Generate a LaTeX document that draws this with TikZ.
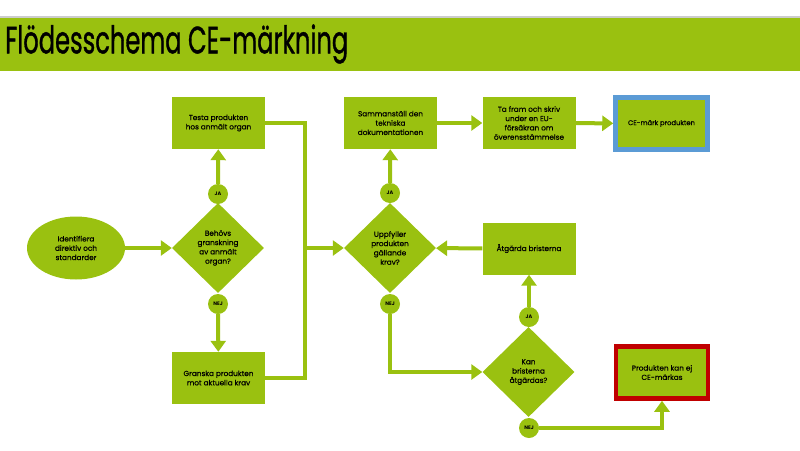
\documentclass[tikz,border=0pt]{standalone}
\usepackage{fontspec}
\setmainfont{Poppins}[UprightFeatures={FakeBold=0.5}]
\newfontfamily\titlefont{Poppins}[UprightFeatures={FakeBold=1.2}]
\usetikzlibrary{shapes.geometric,arrows.meta,positioning,calc}
\definecolor{cegreen}{RGB}{154,193,16}
\definecolor{okblue}{RGB}{91,155,213}
\definecolor{stopred}{RGB}{192,0,0}

\tikzset{
    box/.style={rectangle, fill=cegreen, minimum width=93pt, minimum height=52pt,
        inner sep=1pt, align=center, font=\fontsize{7.3}{9.3}\selectfont},
    query/.style={diamond, fill=cegreen, minimum width=92pt, minimum height=90pt,
        inner sep=0pt, align=center, font=\fontsize{7.3}{9.3}\selectfont},
    startnode/.style={ellipse, fill=cegreen, minimum width=98pt, minimum height=63pt,
        inner sep=0pt, align=center, font=\fontsize{7.3}{9.3}\selectfont},
    endbox/.style={box, line width=4.5pt, minimum width=92pt, minimum height=52pt},
    tag/.style={circle, fill=cegreen, minimum size=20pt, inner sep=0pt,
        font=\fontsize{5}{6}\selectfont\bfseries},
    link/.style={draw=cegreen, line width=4pt},
    flow/.style={link, -{Triangle[width=15pt,length=11pt]}}
}

\begin{document}
\begin{tikzpicture}[x=1pt, y=-1pt]
    \useasboundingbox (0,0) rectangle (800,450);

    % Title bar
    \fill[gray!40] (0,16) rectangle (800,17.5);
    \fill[cegreen] (0,17.5) rectangle (800,71);
    \node[anchor=west, inner sep=0pt, font=\titlefont\fontsize{38}{40}\selectfont] (title) at (5,44)
        {\resizebox{343pt}{\height}{Flödesschema CE-märkning}};

    % Left part
    \node[startnode] (ident) at (76,248) {Identifiera\\direktiv och\\standarder};
    \node[query] (q1) at (218,248) {Behövs\\granskning\\av anmält\\organ?};
    \node[box] (testa) at (218.5,123) {Testa produkten\\hos anmält organ};
    \node[box] (granska) at (218.5,378) {Granska produkten\\mot aktuella krav};

    % Middle part
    \node[query] (q2) at (390,248) {Uppfyller\\produkten\\gällande\\krav?};
    \node[box] (samman) at (390.5,123) {Sammanställ den\\tekniska\\dokumentationen};
    \node[box] (tafram) at (529,123) {Ta fram och skriv\\under en EU-\\försäkran om\\överensstämmelse};
    \node[box] (atgard) at (529,248.5) {Åtgärda bristerna};
    \node[query] (q3) at (528.5,372) {Kan\\bristerna\\åtgärdas?};

    % End boxes
    \node[endbox, draw=okblue, font=\fontsize{6.8}{8.5}\selectfont] (cemark) at (661.5,123.5) {CE-märk produkten};
    \node[endbox, draw=stopred] (ejbox) at (662,372.5) {Produkten kan ej\\CE-märkas};

    % Answer tags
    \foreach \n/\t/\x/\y in {ja1/JA/218/194, nej1/NEJ/218/304, ja2/JA/390/193,
        nej2/NEJ/390/304, ja3/JA/529/317, nej3/NEJ/529/428} {
        \node[tag] (\n) at (\x,\y) {\t};
    }
    \coordinate (join) at (305,248);

    % Connectors
    \draw[flow] (ident) -- (q1);
    \draw[flow] (ja1) -- (testa);
    \draw[flow] (nej1) -- (granska);
    \draw[link] (testa.east) -| (join);
    \draw[link] (granska.east) -| (join);
    \draw[flow] (join) -- (q2);
    \draw[flow] (ja2) -- (samman);
    \draw[flow] (samman) -- (tafram);
    \draw[flow] (tafram) -- (cemark);
    \draw[flow] (atgard) -- (q2);
    \draw[flow] (nej2) |- (q3);
    \draw[flow] (ja3) -- (atgard);
    \draw[flow] (nej3) -| (ejbox);
\end{tikzpicture}
\end{document}
